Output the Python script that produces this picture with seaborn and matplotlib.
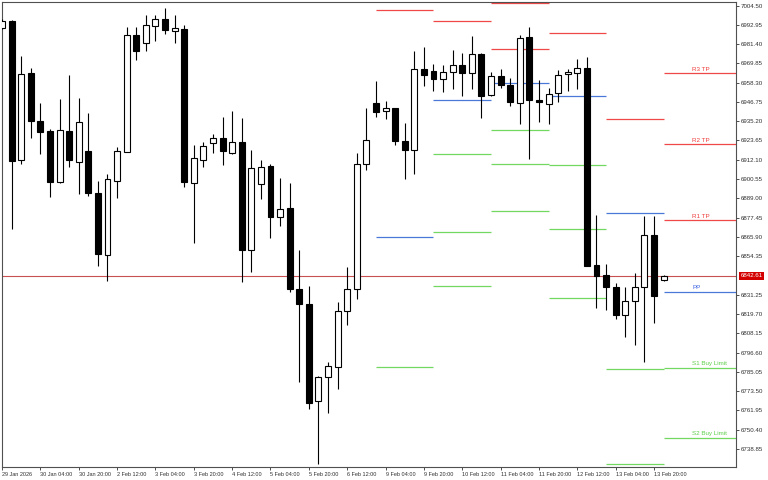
import numpy as np
import seaborn as sns
import matplotlib
matplotlib.use("Agg")
import matplotlib.pyplot as plt
import matplotlib.transforms as mtransforms

# H4 candles, 29 Jan 2026 - 13 Feb 2026
opens = [6991.2, 6995.4, 6911.8, 6964.3, 6935.5, 6929.3, 6898.6, 6929.3, 6910.9, 6917.5,
         6892.0, 6855.2, 6899.6, 6916.9, 6986.7, 6981.9, 6992.0, 6996.6, 6989.4, 6990.4,
         6898.0, 6911.8, 6922.0, 6925.0, 6916.3, 6922.6, 6858.2, 6897.4, 6908.5, 6877.6,
         6883.0, 6834.9, 6825.5, 6767.4, 6781.8, 6788.1, 6821.3, 6834.7, 6909.6, 6946.3,
         6941.1, 6942.9, 6923.5, 6917.8, 6966.3, 6965.1, 6960.7, 6964.5, 6968.7, 6963.9,
         6975.5, 6950.9, 6962.1, 6956.7, 6946.3, 6985.5, 6947.9, 6945.3, 6951.9, 6963.5,
         6964.3, 6966.9, 6849.1, 6843.1, 6835.7, 6819.1, 6827.7, 6835.9, 6867.0, 6839.9]
highs = [6996.4, 6995.8, 6974.4, 6967.2, 6946.1, 6930.5, 6948.3, 6962.9, 6948.9, 6940.1,
         6899.2, 6903.6, 6919.9, 6991.8, 6991.4, 6998.8, 6999.0, 7002.8, 6998.8, 6992.6,
         6921.1, 6922.9, 6927.7, 6937.5, 6941.3, 6936.9, 6918.0, 6912.0, 6909.6, 6901.2,
         6898.0, 6858.2, 6836.7, 6782.8, 6791.1, 6827.1, 6848.0, 6916.0, 6943.1, 6959.1,
         6947.1, 6943.3, 6933.9, 6977.3, 6979.8, 6969.5, 6969.0, 6977.7, 6976.2, 6986.2,
         6976.0, 6964.5, 6966.5, 6961.1, 6987.0, 6991.6, 6959.7, 6954.9, 6965.9, 6966.3,
         6972.3, 6973.5, 6879.0, 6849.7, 6838.1, 6835.7, 6844.5, 6878.6, 6878.6, 6842.9]
lows = [6990.4, 6870.6, 6909.7, 6925.0, 6915.7, 6890.0, 6898.0, 6907.6, 6891.4, 6890.4,
        6848.3, 6839.5, 6889.4, 6916.5, 6971.9, 6977.4, 6983.0, 6987.6, 6982.2, 6896.0,
        6862.1, 6907.9, 6916.0, 6908.8, 6915.4, 6839.1, 6844.7, 6888.6, 6865.4, 6872.4,
        6832.7, 6779.2, 6762.6, 6729.9, 6760.2, 6775.0, 6813.1, 6828.5, 6906.0, 6937.9,
        6936.5, 6920.9, 6900.4, 6903.8, 6956.5, 6953.3, 6952.5, 6954.3, 6950.5, 6954.7,
        6937.3, 6950.5, 6955.3, 6944.3, 6933.5, 6912.4, 6934.5, 6933.3, 6946.7, 6953.5,
        6954.3, 6848.3, 6823.1, 6822.1, 6816.5, 6805.8, 6801.3, 6790.8, 6814.1, 6839.6]
closes = [6995.4, 6911.4, 6963.5, 6935.1, 6928.9, 6899.0, 6929.7, 6911.8, 6934.7, 6892.0,
          6855.7, 6900.4, 6917.2, 6986.7, 6977.4, 6992.6, 6996.6, 6989.6, 6990.8, 6898.6,
          6912.9, 6920.5, 6925.0, 6917.2, 6922.6, 6858.2, 6907.0, 6907.9, 6877.6, 6882.6,
          6834.5, 6825.5, 6766.2, 6782.0, 6788.6, 6821.3, 6834.9, 6909.4, 6923.8, 6940.7,
          6942.9, 6923.2, 6918.0, 6966.3, 6962.7, 6960.5, 6964.5, 6969.0, 6963.9, 6975.5,
          6950.3, 6962.1, 6957.1, 6946.7, 6985.0, 6947.9, 6946.5, 6951.7, 6962.7, 6964.7,
          6966.9, 6848.6, 6842.3, 6835.7, 6819.1, 6827.7, 6835.9, 6867.0, 6830.3, 6842.61]

time_labels = ["29 Jan 2026", "30 Jan 04:00", "30 Jan 20:00", "2 Feb 12:00", "3 Feb 04:00",
               "3 Feb 20:00", "4 Feb 12:00", "5 Feb 04:00", "5 Feb 20:00", "6 Feb 12:00",
               "9 Feb 04:00", "9 Feb 20:00", "10 Feb 12:00", "11 Feb 04:00", "11 Feb 20:00",
               "12 Feb 12:00", "13 Feb 04:00", "13 Feb 20:00"]
price_ticks = [6738.85, 6750.40, 6761.95, 6773.50, 6785.05, 6796.60, 6808.15, 6819.70,
               6831.25, 6854.35, 6865.90, 6877.45, 6889.00, 6900.55, 6912.10, 6923.65,
               6935.20, 6946.75, 6958.30, 6969.85, 6981.40, 6992.95, 7004.50]
last_price = 6842.61

# daily pivot levels of past days (first candle of each day)
day_start = [39, 45, 51, 57, 63]
res_levels = [[7001.8], [6995.2], [6978.3, 7006.3], [6987.9], [6936.5]]
pivot_levels = [6865.7, 6947.9, 6957.9, 6950.1, 6880.0]
sup_levels = [[6788.1], [6915.7, 6868.7, 6836.3], [6929.7, 6909.4, 6881.2],
              [6908.7, 6870.8, 6829.5], [6786.6, 6730.0]]

# current day levels
cur_names = ["R3 TP", "R2 TP", "R1 TP", "PP", "S1 Buy Limit", "S2 Buy Limit"]
cur_values = [6963.9, 6921.4, 6875.8, 6833.1, 6787.5, 6745.4]
cur_kind = ["r", "r", "r", "p", "s", "s"]

sns.set_theme(style="white")
plt.rcParams["font.family"] = ["Liberation Sans", "DejaVu Sans"]

RED, BLUE, GREEN = "#f04848", "#4a78d8", "#72d860"
kind_color = {"r": RED, "p": BLUE, "s": GREEN}
text_color = {"r": "#f03a3a", "p": "#3a62e0", "s": "#5ccf4a"}

fig = plt.figure(figsize=(7.68, 4.8), dpi=100)
ax = fig.add_axes([2 / 768, 13 / 480, 734 / 768, 465 / 480])

x = np.arange(len(opens))
o = np.array(opens)
c = np.array(closes)
up = c >= o

# wicks then bodies
ax.vlines(x, lows, highs, color="#000000", lw=0.8, zorder=3)
body_low = np.minimum(o, c)
body_h = np.maximum(np.abs(c - o), 0.6)
ax.bar(x[up], body_h[up], bottom=body_low[up], width=0.62, color="white",
       edgecolor="#000000", linewidth=0.8, zorder=4)
ax.bar(x[~up], body_h[~up], bottom=body_low[~up], width=0.62, color="black",
       edgecolor="#000000", linewidth=0.8, zorder=4)

# past days pivot segments
for k, d in enumerate(day_start):
    x0, x1 = d, d + 6
    ax.hlines(res_levels[k], x0, x1, color=RED, lw=0.9, zorder=2)
    ax.hlines(pivot_levels[k], x0, x1, color=BLUE, lw=0.9, zorder=2)
    ax.hlines(sup_levels[k], x0, x1, color=GREEN, lw=0.9, zorder=2)

# current day levels with labels
x_end = 76.55
for name, val, kd in zip(cur_names, cur_values, cur_kind):
    ax.hlines(val, 69, x_end, color=kind_color[kd], lw=0.9, zorder=2)
    ax.annotate(name, (72.0, val), xytext=(0, 1.2), textcoords="offset points",
                fontsize=4.5, color=text_color[kd], ha="left", va="bottom")

# last price line and tag
ax.axhline(last_price, color="#c85050", lw=0.8, zorder=1)
trans = mtransforms.blended_transform_factory(ax.transAxes, ax.transData)
ax.text(1.006, last_price, f"{last_price:.2f}", transform=trans, fontsize=4.4,
        color="white", ha="left", va="center",
        bbox=dict(boxstyle="square,pad=0.25", fc="#d40000", ec="none"))

ax.set_xlim(0.06, x_end)
ax.set_ylim(6728.1, 7006.6)

ax.yaxis.tick_right()
ax.set_yticks(price_ticks)
ax.set_yticklabels([f"{v:.2f}" for v in price_ticks])
ax.set_xticks(np.arange(0, 4 * len(time_labels), 4))
ax.set_xticklabels(time_labels)
for lbl in ax.get_xticklabels():
    lbl.set_ha("left")
ax.tick_params(axis="both", colors="#303030", length=2.5, width=0.6,
               pad=1, direction="out")
ax.tick_params(axis="y", labelsize=4.4, right=True, left=False)
ax.tick_params(axis="x", labelsize=4.0, bottom=True)

for s in ax.spines.values():
    s.set_color("#505050")
    s.set_linewidth(0.8)
ax.set_xlabel("")
ax.set_ylabel("")

fig.savefig("out.png", dpi=100)
